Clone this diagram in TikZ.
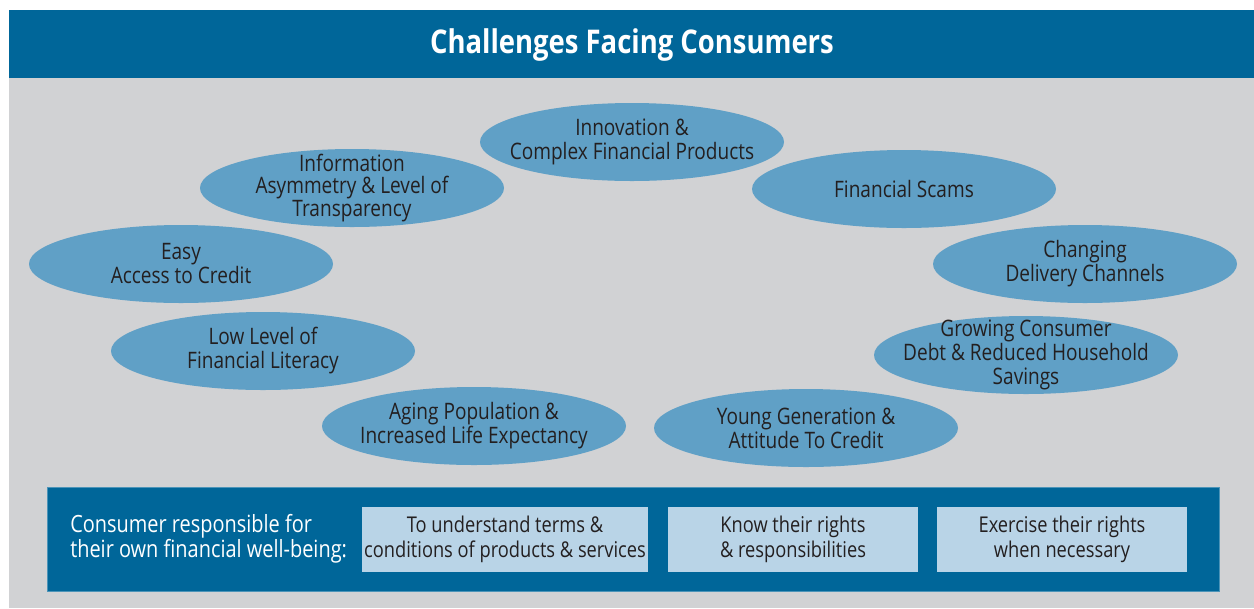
\documentclass[tikz,border=0pt]{standalone}
\usepackage{fontspec}
\setmainfont{Open Sans}[FakeStretch=0.84]
\usepackage{tikz}
\usetikzlibrary{shapes.geometric}
\definecolor{barblue}{HTML}{006699}
\definecolor{panelgray}{HTML}{D1D2D4}
\definecolor{bubble}{HTML}{60A0C6}
\definecolor{dutyblue}{HTML}{B9D4E7}
\definecolor{inktext}{HTML}{231F20}

\begin{document}
\begin{tikzpicture}[
    x=0.75pt, y=-0.75pt,
    challenge/.style={ellipse, fill=bubble, text=inktext, align=center,
        minimum width=228pt, minimum height=58.5pt,
        inner xsep=-20pt, inner ysep=-12pt,
        font=\fontsize{17}{18}\selectfont},
    duty/.style={rectangle, fill=dutyblue, text=inktext, align=center,
        minimum width=187.5pt, minimum height=48.75pt, inner sep=0pt,
        font=\fontsize{16.3}{18.75}\selectfont}
]
    \useasboundingbox (0,0) rectangle (1254,608);
    % Background
    \fill[white] (0,0) rectangle (1254,608);
    \fill[panelgray] (9,78) rectangle (1254,608);
    \fill[barblue] (9,10) rectangle (1254,78);
    \node (Title) [text=white, font=\bfseries\fontsize{24.5}{28}\selectfont] at (632,45) {Challenges Facing Consumers};

    % Challenges
    \node (Innovation) [challenge] at (632,142) {Innovation \&\\Complex Financial Products};
    \node (Asymmetry) [challenge, font=\fontsize{17}{16}\selectfont] at (352,188) {Information\\Asymmetry \& Level of\\Transparency};
    \node (Scams) [challenge] at (904,189) {Financial Scams};
    \node (Credit) [challenge] at (181,264) {Easy\\Access to Credit};
    \node (Channels) [challenge] at (1085,264) {Changing\\Delivery Channels};
    \node (Literacy) [challenge] at (263,351) {Low Level of\\Financial Literacy};
    \node (Debt) [challenge] at (1026,355) {Growing Consumer\\Debt \& Reduced Household\\Savings};
    \node (Aging) [challenge] at (474,426) {Aging Population \&\\Increased Life Expectancy};
    \node (Young) [challenge] at (806,428) {Young Generation \&\\Attitude To Credit};

    % Responsibilities
    \fill[barblue, draw=barblue!70!white, line width=0.6pt] (47,487) rectangle (1219,591);
    \node (Consumer) [anchor=west, text=white, align=left, inner sep=0pt,
        font=\fontsize{17.8}{18.75}\selectfont] at (70,539) {Consumer responsible for\\their own financial well-being:};
    \node (Terms) [duty, minimum width=214.5pt] at (505,539.5) {To understand terms \&\\conditions of products \& services};
    \node (Rights) [duty] at (793,539.5) {Know their rights\\\& responsibilities};
    \node (Exercise) [duty] at (1062,539.5) {Exercise their rights\\when necessary};
\end{tikzpicture}
\end{document}
